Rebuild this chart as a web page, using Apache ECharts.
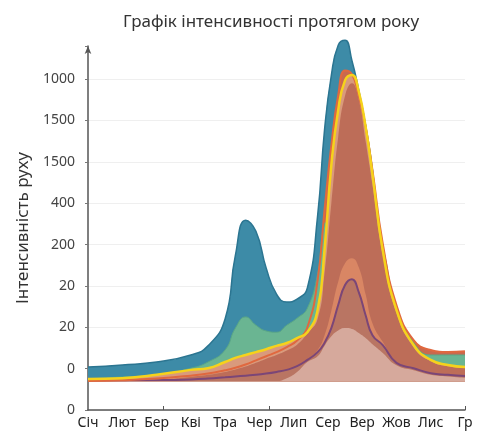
<!DOCTYPE html>
<html>
<head>
<meta charset="utf-8">
<script src="https://cdn.jsdelivr.net/npm/echarts@6/dist/echarts.min.js"></script>
<style>
  html, body { margin: 0; padding: 0; background: #fff; }
  #chart { width: 477px; height: 434px; }
</style>
</head>
<body>
<div id="chart"></div>
<script>
// підписи осей
const months = ['Січ', 'Лют', 'Бер', 'Кві', 'Тра', 'Чер', 'Лип', 'Сер', 'Вер', 'Жов', 'Лис', 'Гр']
const yTickLabels = ['0', '0', '20', '20', '200', '400', '1500', '1500', '1000']

// точки по осі x (у місяцях)
const xs = [0, 1, 2, 3, 3.5, 4, 4.3, 4.6, 4.9, 5.2, 5.5, 5.8, 6.1, 6.4, 6.7, 6.9, 7.1, 7.3, 7.5, 7.7, 7.9, 8.1, 8.3, 8.6, 9, 9.5, 10, 10.5, 11]

// значення серій (в одиницях осі y)
const tealVals = [1.04, 1.09, 1.16, 1.33, 1.55, 2.20, 3.74, 4.59, 4.32, 3.43, 2.80, 2.61, 2.68, 2.95, 4.70, 6.76, 8.09, 8.82, 8.94, 8.45, 7.73, 6.88, 5.80, 3.55, 1.95, 1.40, 1.24, 1.20, 1.20]
const redVals = [0.70, 0.72, 0.76, 0.83, 0.88, 0.96, 1.02, 1.10, 1.20, 1.30, 1.40, 1.52, 1.68, 2.00, 3.14, 4.83, 6.40, 7.61, 8.21, 8.12, 7.60, 6.85, 5.80, 4.03, 2.54, 1.69, 1.45, 1.40, 1.42]
const greenVals = [0.75, 0.80, 0.85, 1.01, 1.16, 1.45, 1.98, 2.25, 2.05, 1.91, 1.88, 2.05, 2.22, 2.46, 3.30, 4.50, 4.60, 5.60, 6.20, 6.30, 6.00, 5.50, 4.80, 3.95, 2.48, 1.63, 1.33, 1.33, 1.33]
const yellowVals = [0.75, 0.77, 0.85, 0.97, 1.01, 1.16, 1.26, 1.33, 1.40, 1.47, 1.55, 1.62, 1.74, 1.88, 2.42, 3.86, 5.92, 7.25, 7.97, 8.10, 7.70, 6.85, 5.70, 3.86, 2.42, 1.57, 1.21, 1.09, 1.04]
const brownVals = [0.68, 0.70, 0.73, 0.80, 0.85, 0.92, 0.98, 1.05, 1.14, 1.24, 1.33, 1.44, 1.58, 1.85, 2.20, 3.30, 5.00, 6.60, 7.60, 7.90, 7.50, 6.50, 5.45, 3.75, 2.35, 1.52, 1.18, 1.06, 1.02]
const orangeVals = [0.70, 0.71, 0.72, 0.74, 0.76, 0.79, 0.81, 0.83, 0.85, 0.88, 0.92, 0.97, 1.06, 1.21, 1.45, 1.80, 2.40, 3.10, 3.55, 3.67, 3.45, 2.80, 2.10, 1.65, 1.16, 1.01, 0.89, 0.85, 0.82]
const purpleVals = [0.70, 0.71, 0.72, 0.74, 0.76, 0.79, 0.81, 0.83, 0.85, 0.88, 0.92, 0.97, 1.06, 1.21, 1.40, 1.62, 1.98, 2.54, 3.02, 3.16, 2.85, 2.29, 1.81, 1.57, 1.14, 1.01, 0.89, 0.85, 0.82]
const pinkVals = [0.70, 0.70, 0.70, 0.70, 0.70, 0.70, 0.70, 0.70, 0.70, 0.70, 0.70, 0.77, 0.92, 1.16, 1.30, 1.55, 1.78, 1.92, 1.98, 1.96, 1.86, 1.74, 1.59, 1.38, 1.08, 0.96, 0.85, 0.81, 0.78]

const pairs = vals => xs.map((x, i) => [x, vals[i]])

// заливка (з лінією або без)
function area (vals, fill, line, width) {
  return {
    type: 'line',
    data: pairs(vals),
    smooth: 0.5,
    symbol: 'none',
    clip: false,
    lineStyle: { color: line || fill, width: line ? width : 0 },
    areaStyle: { color: fill, opacity: 1, origin: 0.68 },
    silent: true
  }
}
// тільки лінія
function outline (vals, color, width) {
  return {
    type: 'line',
    data: pairs(vals),
    smooth: 0.5,
    symbol: 'none',
    clip: false,
    lineStyle: { color: color, width: width },
    silent: true
  }
}

const seriesList = [
  area(tealVals, '#3d8ba7', '#2b7591', 1.5),
  area(redVals, '#c8694f'),
  area(greenVals, '#6ab592', '#5aa786', 1),
  area(yellowVals, '#d99a7c'),
  area(brownVals, '#bd6d58'),
  area(orangeVals, '#d98664'),
  area(purpleVals, '#b97563', '#7b4677', 2),
  area(pinkVals, '#d6a99c'),
  outline(redVals, '#e0683f', 2),
  outline(yellowVals, '#f6d21b', 2.5)
]
// кожна наступна серія поверх попередньої (лінія разом зі своєю заливкою)
seriesList.forEach((s, i) => { s.z = i + 1 })

const chart = echarts.init(document.getElementById('chart'))
chart.setOption({
  animation: false,
  title: {
    text: 'Графік інтенсивності протягом року',
    left: 118,
    top: 9,
    textStyle: { fontFamily: 'Noto Sans', fontWeight: 'normal', fontSize: 17, color: '#333' }
  },
  grid: { left: 88, right: 12, top: 46, bottom: 24 },
  xAxis: {
    type: 'value',
    min: 0,
    max: 11,
    interval: 1,
    z: 20,
    axisLine: { lineStyle: { color: '#555', width: 1.5 } },
    axisTick: { show: true, inside: true, length: 4, customValues: [2.2, 5.3, 11], lineStyle: { color: '#555' } },
    splitLine: { show: false },
    axisLabel: {
      margin: 6,
      fontFamily: 'Noto Sans',
      fontSize: 14,
      color: '#222',
      formatter: v => months[v] || ''
    }
  },
  yAxis: {
    type: 'value',
    min: 0,
    max: 8.8,
    interval: 1,
    offset: 5,
    z: 0,
    name: 'Інтенсивність руху',
    nameLocation: 'middle',
    nameGap: 42,
    nameTextStyle: { fontFamily: 'Noto Sans', fontSize: 17, color: '#333' },
    axisLine: { show: true, symbol: ['none', 'arrow'], symbolSize: [5, 8], lineStyle: { color: '#555', width: 1.5 } },
    axisTick: { show: true, length: 3, lineStyle: { color: '#777' } },
    splitLine: { show: true, showMaxLine: false, lineStyle: { color: '#efefef' } },
    axisLabel: {
      margin: 8,
      fontFamily: 'Noto Sans',
      fontSize: 14,
      color: '#444',
      formatter: v => (Number.isInteger(v) ? yTickLabels[v] : '')
    }
  },
  series: seriesList
})
</script>
</body>
</html>
